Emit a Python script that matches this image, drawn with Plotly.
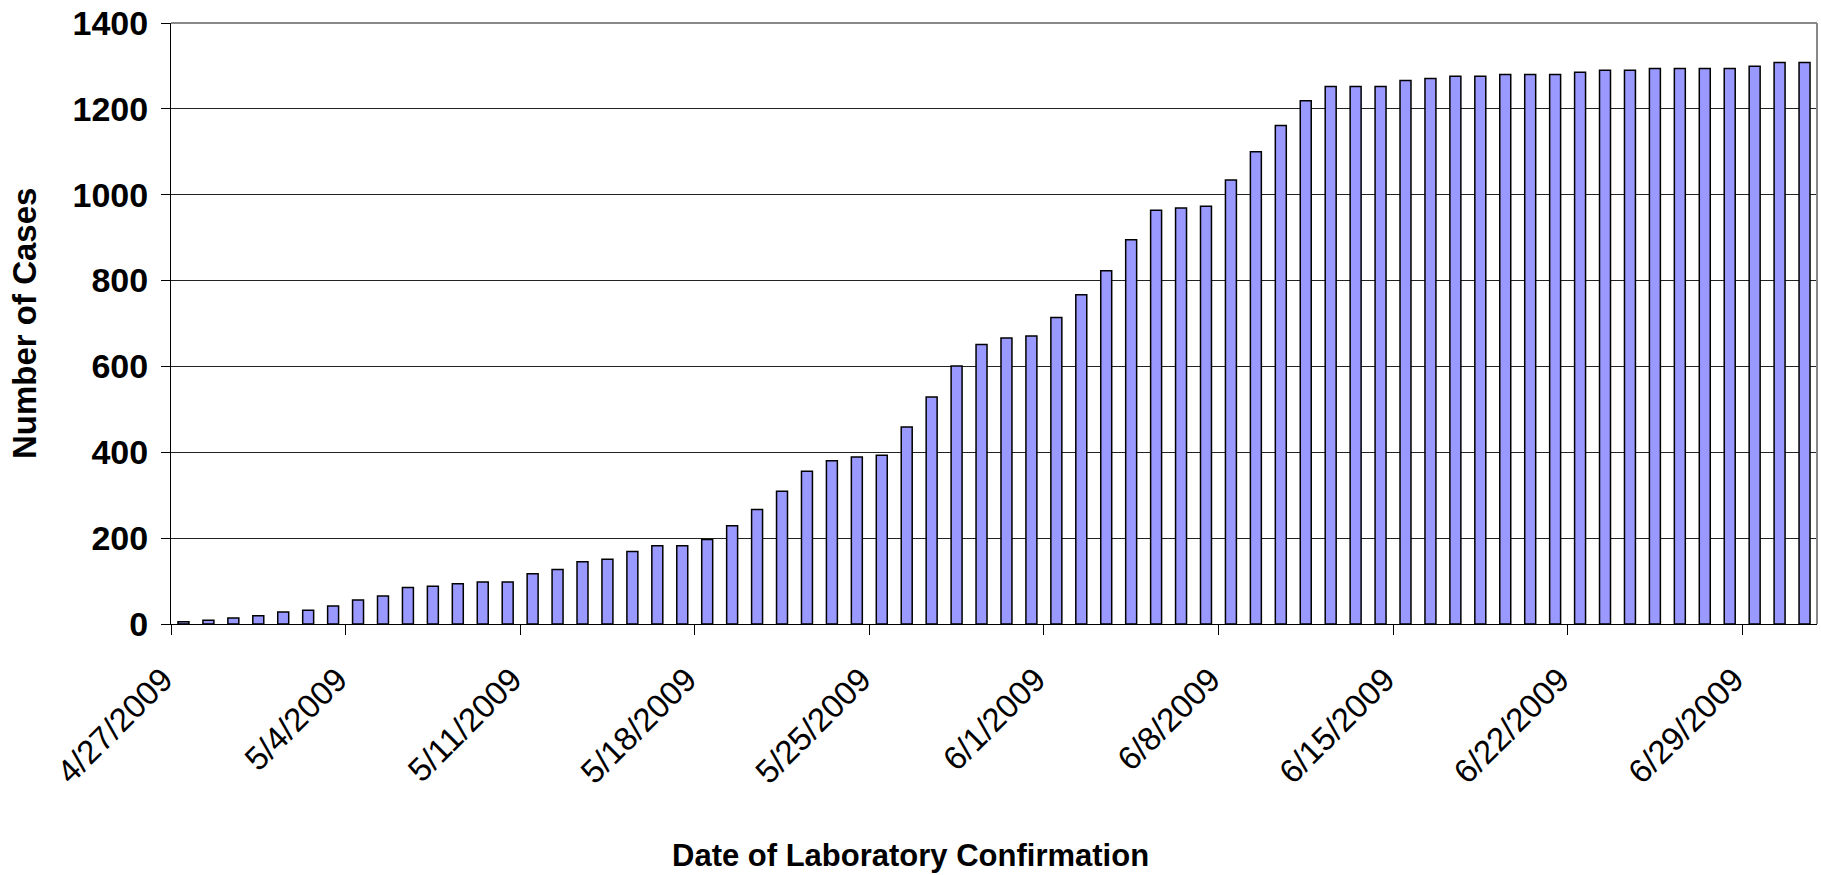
import pandas as pd
import plotly.graph_objects as go

# Daily cumulative number of laboratory-confirmed cases, 4/27/2009 .. 7/1/2009
first_day = "2009-04-27"
cases = [5, 9, 14, 19, 28, 32, 42, 56, 65, 85,
         88, 94, 98, 98, 117, 127, 145, 151, 169, 182,
         182, 197, 229, 267, 309, 356, 380, 389, 393, 459,
         529, 601, 651, 666, 671, 714, 767, 823, 895, 964,
         969, 973, 1034, 1100, 1161, 1219, 1252, 1252, 1252, 1266,
         1271, 1276, 1276, 1280, 1280, 1280, 1285, 1290, 1290, 1294,
         1294, 1294, 1294, 1299, 1308, 1308]
dates = pd.date_range(first_day, periods=len(cases), freq="D")

tick_labels = ["4/27/2009", "5/4/2009", "5/11/2009", "5/18/2009", "5/25/2009",
               "6/1/2009", "6/8/2009", "6/15/2009", "6/22/2009", "6/29/2009"]
tick_every = 7
y_ticks = [0, 200, 400, 600, 800, 1000, 1200, 1400]

half_day = pd.Timedelta(hours=12)
tick_pos = [d - half_day for d in dates[::tick_every]]

FONT = "Liberation Sans, Arial, sans-serif"

fig = go.Figure()
fig.add_trace(go.Bar(
    x=dates, y=cases,
    marker=dict(color="#9999FF", line=dict(color="black", width=1.5)),
    showlegend=False,
))

fig.update_layout(
    width=1821, height=875,
    margin=dict(l=171, r=4, t=17, b=251),
    paper_bgcolor="white", plot_bgcolor="white",
    bargap=0.56,
    font=dict(family=FONT, color="black"),
)

fig.update_xaxes(
    type="date",
    range=[dates[0] - half_day, dates[-1] + half_day],
    tickmode="array", tickvals=tick_pos, ticktext=tick_labels,
    tickangle=-45,
    tickfont=dict(family=FONT, size=33, color="black"),
    ticks="outside", ticklen=10, tickcolor="black", tickwidth=1,
    showline=True, linecolor="black", linewidth=1,
    showgrid=False, zeroline=False,
    ticklabelstandoff=12, ticklabelshift=-8,
    ticklabeloverflow="allow",
)
fig.update_yaxes(
    range=[0, 1400],
    tickmode="array", tickvals=y_ticks,
    tickfont=dict(family=FONT, size=34, color="black", weight="bold"),
    ticks="outside", ticklen=9, tickcolor="black", tickwidth=1,
    showline=True, linecolor="black", linewidth=1,
    showgrid=True, gridcolor="#222222", gridwidth=1,
    zeroline=False,
    ticklabelstandoff=6,
    ticklabeloverflow="allow",
)

# plot-area border on top and right (grey)
fig.add_shape(type="line", xref="paper", yref="paper", x0=0, x1=1, y0=1, y1=1,
              line=dict(color="#888888", width=2), layer="above")
fig.add_shape(type="line", xref="paper", yref="paper", x0=1, x1=1, y0=0, y1=1,
              line=dict(color="#888888", width=2), layer="above")

# axis titles
fig.add_annotation(text="<b>Date of Laboratory Confirmation</b>",
                   xref="paper", yref="paper", x=0.4494, y=-0.385,
                   xanchor="center", yanchor="middle", showarrow=False,
                   font=dict(family=FONT, size=31, color="black"))
fig.add_annotation(text="<b>Number of Cases</b>",
                   xref="paper", yref="paper", x=-0.089, y=0.5,
                   xanchor="center", yanchor="middle", textangle=-90,
                   showarrow=False,
                   font=dict(family=FONT, size=33, color="black"))

fig.write_html(
    "out.html",
    config={"displayModeBar": False},
    post_script="document.body.style.margin='0';document.body.style.overflow='hidden';",
)
